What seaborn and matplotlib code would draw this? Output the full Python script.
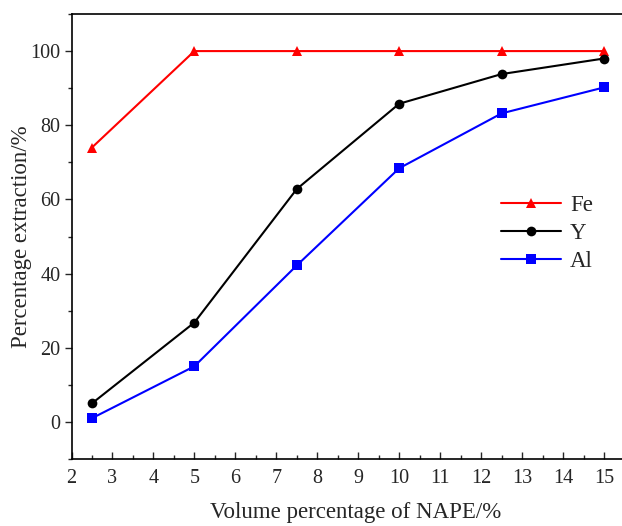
import matplotlib
matplotlib.use("Agg")
import matplotlib.pyplot as plt
import seaborn as sns
import pandas as pd
from matplotlib.ticker import MultipleLocator

nape = [2.5, 5, 7.5, 10, 12.5, 15]
fe = [74.0, 100.0, 100.0, 100.0, 100.0, 100.0]
y_vals = [5.0, 26.8, 62.8, 85.8, 93.8, 98.0]
al = [1.0, 15.0, 42.2, 68.4, 83.2, 90.2]
series_names = ["Fe", "Y", "Al"]
colors = {"Fe": "#ff0000", "Y": "#000000", "Al": "#0000ff"}
markers = {"Fe": "^", "Y": "o", "Al": "s"}

df = pd.DataFrame({
    "x": nape * 3,
    "val": fe + y_vals + al,
    "series": ["Fe"] * 6 + ["Y"] * 6 + ["Al"] * 6,
})

sns.set_style("ticks")
plt.rcParams["font.family"] = ["Liberation Serif", "DejaVu Serif"]

fig = plt.figure(figsize=(6.22, 5.26), dpi=100)
ax = fig.add_axes([71.5 / 622, (526 - 459) / 526, (640 - 71.5) / 622, (459 - 14) / 526])

sns.lineplot(data=df, x="x", y="val", hue="series", style="series",
             hue_order=series_names, style_order=series_names,
             palette=colors, markers=markers, dashes=False,
             markersize=7, markeredgewidth=0, linewidth=1.5, ax=ax)

ax.set_xlim(2, 2 + (640 - 71.5) / 40.96)
ax.set_ylim(-10, 110)
ax.xaxis.set_major_locator(MultipleLocator(1))
ax.xaxis.set_minor_locator(MultipleLocator(0.5))
ax.yaxis.set_major_locator(MultipleLocator(20))
ax.yaxis.set_minor_locator(MultipleLocator(10))
ax.set_yticks([0, 20, 40, 60, 80, 100])
ax.set_xticks(range(2, 16))
ax.tick_params(axis="x", which="major", direction="in", length=5, width=1, labelsize=14.5, pad=7)
ax.tick_params(axis="x", which="minor", direction="in", length=3, width=1)
ax.tick_params(axis="y", which="major", direction="out", length=5, width=1, labelsize=14.5, pad=3)
ax.tick_params(axis="y", which="minor", direction="out", length=3, width=1)
for s in ax.spines.values():
    s.set_linewidth(1.2)
    s.set_color("black")

ax.set_xlabel("Volume percentage of NAPE/%", fontsize=16.5, labelpad=10)
ax.set_ylabel("Percentage extraction/%", fontsize=16.5, labelpad=-1)

leg = ax.legend(loc="upper left", bbox_to_anchor=(0.72, 0.64), frameon=False,
                fontsize=16.5, handlelength=2.6, handletextpad=0.4, labelspacing=0.3)

fig.savefig("out.png", dpi=100)
